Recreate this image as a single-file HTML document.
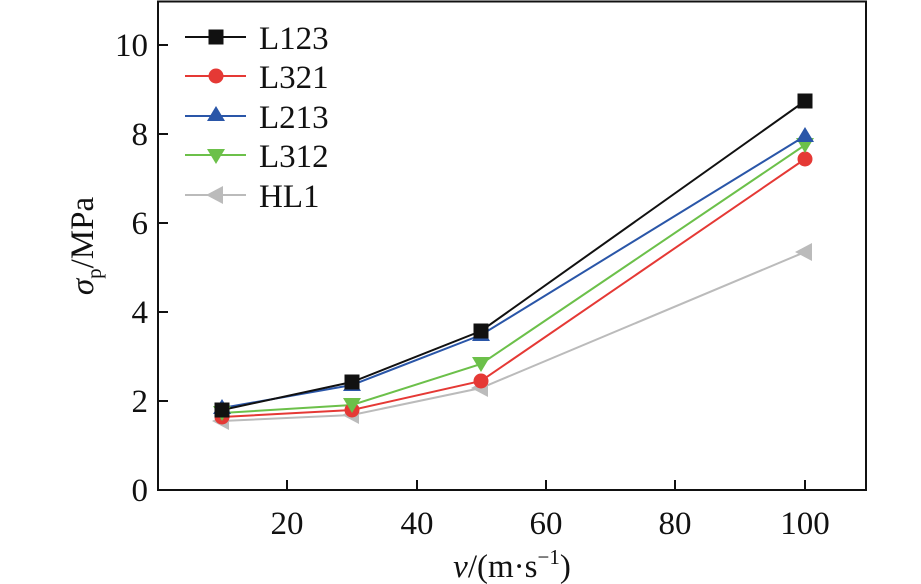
<!DOCTYPE html><html><head><style>body{margin:0;background:#fff}svg{display:block}text{font-family:"Liberation Serif",serif;fill:#111}</style></head><body>
<svg width="921" height="584" viewBox="0 0 921 584" xmlns="http://www.w3.org/2000/svg">
<rect x="158" y="1.5" width="708" height="488.5" fill="none" stroke="#111" stroke-width="2"/>
<g stroke="#111" stroke-width="2">
<line x1="158" y1="401" x2="168" y2="401"/><line x1="158" y1="312" x2="168" y2="312"/><line x1="158" y1="223" x2="168" y2="223"/><line x1="158" y1="134" x2="168" y2="134"/><line x1="158" y1="45" x2="168" y2="45"/>
<line x1="287" y1="490" x2="287" y2="480"/><line x1="417" y1="490" x2="417" y2="480"/><line x1="546" y1="490" x2="546" y2="480"/><line x1="675" y1="490" x2="675" y2="480"/><line x1="805" y1="490" x2="805" y2="480"/>
</g>
<g font-size="33" text-anchor="end"><text x="148" y="501">0</text><text x="148" y="412">2</text><text x="148" y="323">4</text><text x="148" y="234">6</text><text x="148" y="145">8</text><text x="148" y="56">10</text></g>
<g font-size="33" text-anchor="middle"><text x="287" y="534">20</text><text x="417" y="534">40</text><text x="546" y="534">60</text><text x="675" y="534">80</text><text x="805" y="534">100</text></g>
<text x="512" y="577" font-size="33" text-anchor="middle"><tspan font-style="italic">v</tspan>/(m·s<tspan dy="-13" font-size="21">−1</tspan><tspan dy="13">)</tspan></text>
<text transform="translate(93,246) rotate(-90)" font-size="33" text-anchor="middle"><tspan font-style="italic">σ</tspan><tspan dy="8" font-size="21">p</tspan><tspan dy="-8">/MPa</tspan></text>
<g fill="none" stroke-width="2">
<polyline stroke="#bbb" points="222,421 352,415 481,388 805,252"/>
<polyline stroke="#e53935" points="222,417 352,410 481,381 805,159"/>
<polyline stroke="#6cc04a" points="222,413 352,405 481,364 805,145"/>
<polyline stroke="#2a56a8" points="222,408 352,385 481,335 805,136"/>
<polyline stroke="#111" points="222,410 352,382 481,331 805,101"/>
</g>
<g fill="#bbb"><path d="M212,421 l17,-9 v18z"/><path d="M342,415 l17,-9 v18z"/><path d="M471,388 l17,-9 v18z"/><path d="M795,252 l17,-9 v18z"/></g>
<g fill="#e53935"><circle cx="222" cy="417" r="7.5"/><circle cx="352" cy="410" r="7.5"/><circle cx="481" cy="381" r="7.5"/><circle cx="805" cy="159" r="7.5"/></g>
<g fill="#6cc04a"><path d="M213,406 h18 l-9,15z"/><path d="M343,398 h18 l-9,15z"/><path d="M472,357 h18 l-9,15z"/><path d="M796,138 h18 l-9,15z"/></g>
<g fill="#2a56a8"><path d="M213,414 h18 l-9,-15z"/><path d="M343,391 h18 l-9,-15z"/><path d="M472,341 h18 l-9,-15z"/><path d="M796,142 h18 l-9,-15z"/></g>
<g fill="#111"><rect x="214.5" y="402.5" width="15" height="15"/><rect x="344.5" y="374.5" width="15" height="15"/><rect x="473.5" y="323.5" width="15" height="15"/><rect x="797.5" y="93.5" width="15" height="15"/></g>
<g stroke-width="2">
<line x1="185" y1="37" x2="246" y2="37" stroke="#111"/><rect x="208.5" y="29.5" width="15" height="15" fill="#111"/>
<line x1="185" y1="76" x2="246" y2="76" stroke="#e53935"/><circle cx="216" cy="76" r="7.5" fill="#e53935"/>
<line x1="185" y1="116" x2="246" y2="116" stroke="#2a56a8"/><path d="M207,121 h18 l-9,-15z" fill="#2a56a8"/>
<line x1="185" y1="155" x2="246" y2="155" stroke="#6cc04a"/><path d="M207,149 h18 l-9,15z" fill="#6cc04a"/>
<line x1="185" y1="195" x2="246" y2="195" stroke="#bbb"/><path d="M206,195 l17,-9 v18z" fill="#bbb"/>
</g>
<g font-size="33"><text x="259" y="49">L123</text><text x="259" y="88">L321</text><text x="259" y="128">L213</text><text x="259" y="167">L312</text><text x="259" y="207">HL1</text></g>
</svg></body></html>
